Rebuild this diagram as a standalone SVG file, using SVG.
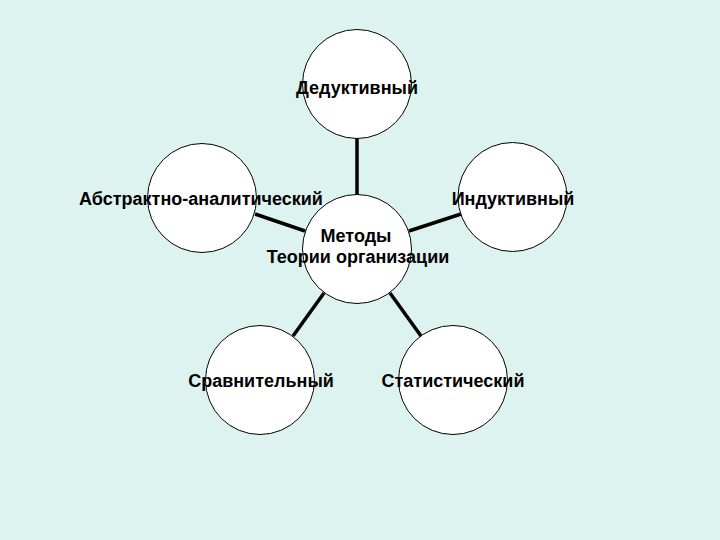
<svg xmlns="http://www.w3.org/2000/svg" width="720" height="540" viewBox="0 0 720 540">
<style>
.n{fill:#fff;stroke:#000;stroke-width:1}
.c{stroke:#000;stroke-width:3.5;fill:none}
.t{font-family:"Liberation Sans",Arial,sans-serif;font-size:18px;font-weight:bold;fill:#000;text-anchor:middle}
</style>
<rect width="720" height="540" fill="#DCF3EF"/>
<g id="connectors">
<line class="c" x1="357" y1="138" x2="357" y2="196"/>
<line class="c" x1="255" y1="214" x2="305" y2="231"/>
<line class="c" x1="409" y1="231" x2="461" y2="214"/>
<line class="c" x1="324" y1="293" x2="293" y2="336"/>
<line class="c" x1="390" y1="293" x2="421" y2="336"/>
</g>
<g id="node-deductive"><circle class="n" cx="357" cy="84" r="54.5"/><text class="t" x="357" y="94">Дедуктивный</text></g>
<g id="node-abstract"><circle class="n" cx="202" cy="198" r="54.5"/><text class="t" x="201" y="205">Абстрактно-аналитический</text></g>
<g id="node-inductive"><circle class="n" cx="512.5" cy="197" r="54.5"/><text class="t" x="513" y="205">Индуктивный</text></g>
<g id="node-center"><circle class="n" cx="357" cy="249" r="54.5"/><text class="t" x="356" y="242">Методы</text><text class="t" x="358" y="263">Теории организации</text></g>
<g id="node-comparative"><circle class="n" cx="260" cy="380" r="54.5"/><text class="t" x="261" y="387">Сравнительный</text></g>
<g id="node-statistical"><circle class="n" cx="453" cy="380" r="54.5"/><text class="t" x="453" y="387">Статистический</text></g>
</svg>
